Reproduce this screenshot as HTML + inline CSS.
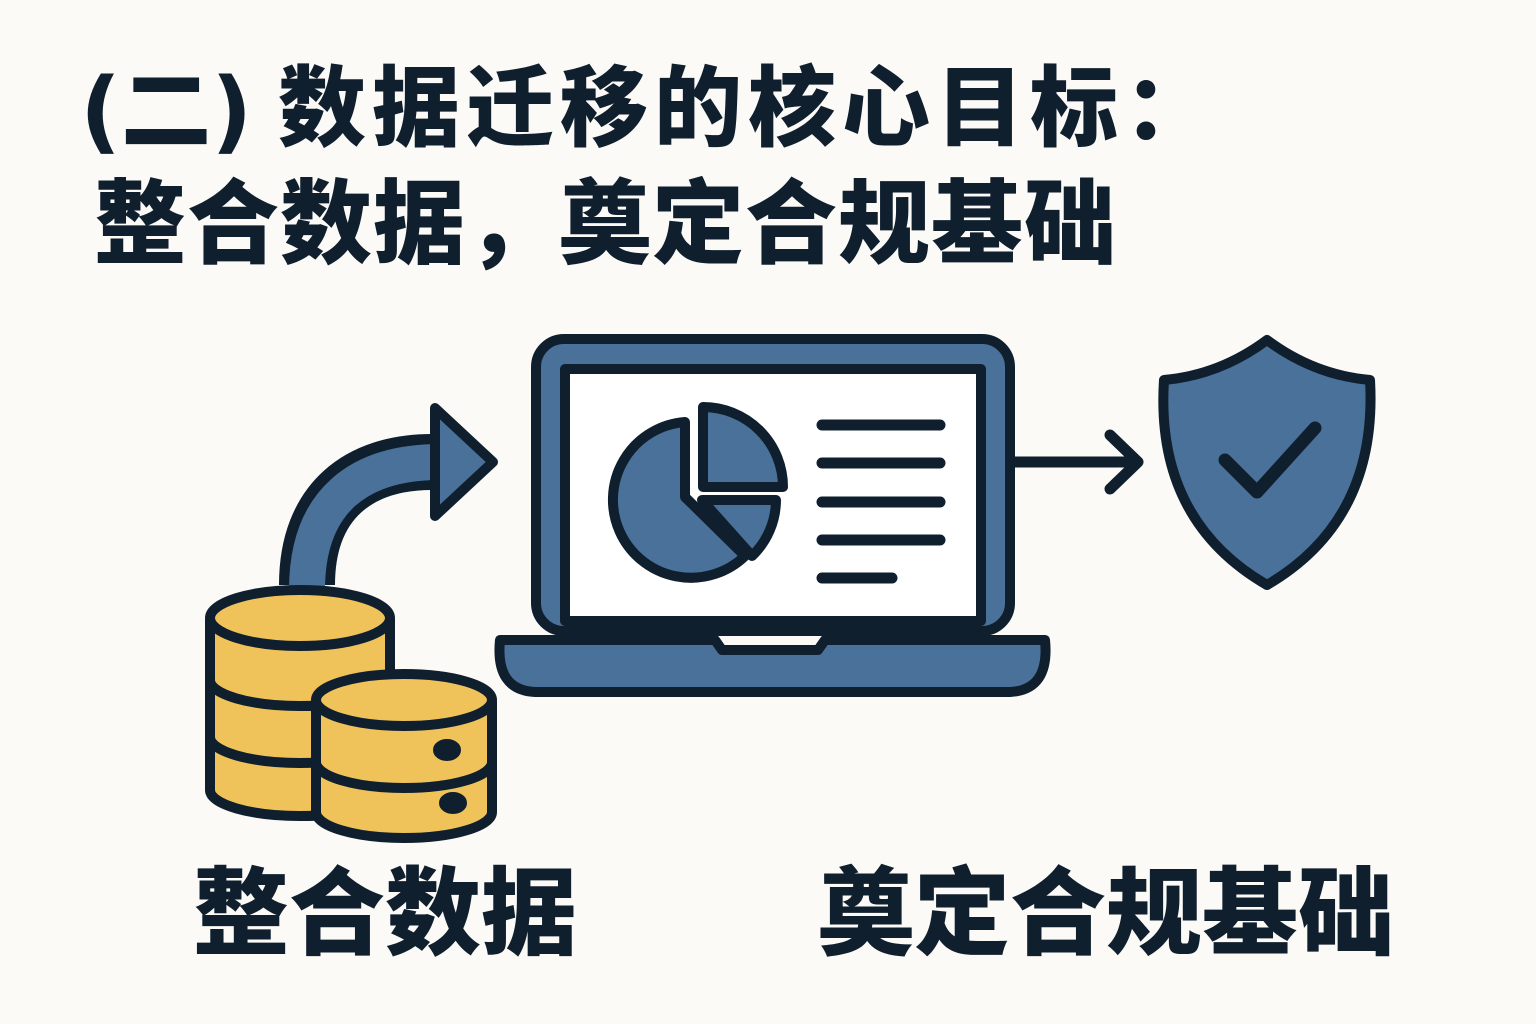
<!DOCTYPE html>
<html><head><meta charset="utf-8"><style>
html,body{margin:0;padding:0;background:#fbfaf6;}
.t{position:absolute;font-family:"Liberation Sans","Noto Sans CJK SC",sans-serif;font-weight:900;color:#0f1f2e;white-space:nowrap;}
</style></head><body>
<div style="position:relative;width:1536px;height:1024px;overflow:hidden;">
<div class="t" style="left:80px;top:38px;font-size:90px;"><span style="font-family:'DejaVu Sans',sans-serif;font-weight:bold;">(</span>二<span style="font-family:'DejaVu Sans',sans-serif;font-weight:bold;">)</span></div>
<div class="t" style="left:278px;top:38px;font-size:88px;letter-spacing:6px;">数据迁移的核心目标：</div>
<div class="t" style="left:94px;top:150px;font-size:92px;letter-spacing:1px;">整合数据，奠定合规基础</div>
<div class="t" style="left:193px;top:836px;font-size:96px;">整合数据</div>
<div class="t" style="left:818px;top:836px;font-size:96px;">奠定合规基础</div>
<svg width="1536" height="1024" style="position:absolute;left:0;top:0" stroke-linejoin="round" stroke-linecap="round">
<g stroke="#0f1f2e" stroke-width="10">
<path d="M307,585 C307,500 360,462 432,462" fill="none" stroke-width="56" stroke-linecap="butt"/>
<path d="M307,590 C307,500 360,462 440,462" fill="none" stroke="#4a719a" stroke-width="36" stroke-linecap="butt"/>
<path d="M435,408 L493,462 L435,516 Z" fill="#4a719a"/>
<path d="M210,620 L210,790 A90,26 0 0 0 390,790 L390,620" fill="#f0c35a"/>
<path d="M210,680 A90,26 0 0 0 390,680 M210,737 A90,26 0 0 0 390,737" fill="none"/>
<ellipse cx="300" cy="618" rx="90" ry="28" fill="#f0c35a"/>
<path d="M316,702 L316,812 A88,26 0 0 0 492,812 L492,702" fill="#f0c35a"/>
<path d="M316,762 A88,26 0 0 0 492,762" fill="none"/>
<ellipse cx="404" cy="700" rx="88" ry="26" fill="#f0c35a"/>
<ellipse cx="447" cy="750" rx="9" ry="6" fill="#0f1f2e"/>
<ellipse cx="453" cy="803" rx="9" ry="6" fill="#0f1f2e"/>
<rect x="536" y="339" width="474" height="292" rx="28" fill="#4a719a"/>
<rect x="565" y="369" width="416" height="252" fill="#fff"/>
<path d="M500,640 L715,640 L722,650 L818,650 L825,640 L1045,640 Q1050,690 1010,692 L535,692 Q495,690 500,640 Z" fill="#4a719a"/>
<path d="M685,422 A78,78 0 1 0 745,556 L685,497 Z" fill="#4a719a"/>
<path d="M703,407 A80,80 0 0 1 783,487 L703,487 Z" fill="#4a719a"/>
<path d="M702,500 L776,500 A78,78 0 0 1 752,556 Z" fill="#4a719a"/>
<g stroke-width="11">
<path d="M822,425 H940 M822,463 H940 M822,502 H940 M822,540 H940 M822,578 H892"/>
<path d="M1015,462 H1138 M1110,435 L1138,462 L1110,489" fill="none"/>
</g>
<path d="M1267,340 Q1220,375 1164,380 Q1155,520 1267,585 Q1378,520 1370,380 Q1314,375 1267,340 Z" fill="#4a719a"/>
<path d="M1225,460 L1257,492 L1315,428" fill="none" stroke-width="13"/>
</g>
</svg>
</div>
</body></html>
